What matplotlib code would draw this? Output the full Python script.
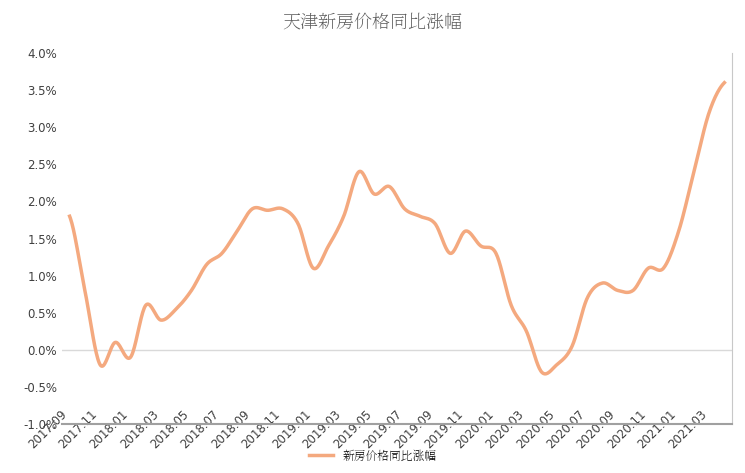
import numpy as np
import matplotlib
matplotlib.use("Agg")
import matplotlib.pyplot as plt
from matplotlib import font_manager as fm

cjk = None
for f in fm.findSystemFonts():
    if "CJK" in f or "NotoSansSC" in f:
        cjk = f
        if "SC" in f or "ttc" in f:
            break
if cjk:
    fm.fontManager.addfont(cjk)
    fp = fm.FontProperties(fname=cjk)
else:
    fp = fm.FontProperties(family="Noto Sans CJK SC")

months = ["2017.09","2017.10","2017.11","2017.12","2018.01","2018.02","2018.03","2018.04","2018.05","2018.06",
          "2018.07","2018.08","2018.09","2018.10","2018.11","2018.12","2019.01","2019.02","2019.03","2019.04",
          "2019.05","2019.06","2019.07","2019.08","2019.09","2019.10","2019.11","2019.12","2020.01","2020.02",
          "2020.03","2020.04","2020.05","2020.06","2020.07","2020.08","2020.09","2020.10","2020.11","2020.12",
          "2021.01","2021.02","2021.03","2021.04"]
values = [1.8,0.8,-0.2,0.1,-0.1,0.6,0.4,0.55,0.8,1.15,
          1.3,1.6,1.9,1.88,1.9,1.7,1.1,1.4,1.8,2.4,
          2.1,2.2,1.9,1.8,1.7,1.3,1.6,1.4,1.3,0.6,
          0.25,-0.3,-0.2,0.05,0.7,0.9,0.8,0.8,1.1,1.1,
          1.6,2.4,3.2,3.6]

def smooth(y, n=20):
    y = np.asarray(y, float)
    p = np.concatenate([[y[0]], y, [y[-1]]])
    xs, ys = [], []
    for i in range(len(y) - 1):
        p0, p1, p2, p3 = p[i], p[i+1], p[i+2], p[i+3]
        t = np.linspace(0, 1, n, endpoint=False)
        c = 0.5*((2*p1) + (-p0+p2)*t + (2*p0-5*p1+4*p2-p3)*t**2 + (-p0+3*p1-3*p2+p3)*t**3)
        xs.append(i + t); ys.append(c)
    xs.append([len(y)-1]); ys.append([y[-1]])
    return np.concatenate(xs), np.concatenate(ys)

fig = plt.figure(figsize=(7.45, 4.73), dpi=100)
fig.patch.set_facecolor("white")
ax = fig.add_axes([62/745, 1-424/473, (732-62)/745, (424-53)/473])
sx, sy = smooth(values)
ax.plot(sx, sy, color="#F4A97F", lw=2.5, label="新房价格同比涨幅")
ax.set_ylim(-1.0, 4.0)
ax.set_xlim(-0.5, len(values)-0.5)
ax.set_yticks(np.arange(-1.0, 4.01, 0.5))
ax.set_yticklabels([f"{v:.1f}%" for v in np.arange(-1.0, 4.01, 0.5)], fontsize=8.5, color="#404040")
ticks = list(range(0, len(months), 2))
ax.set_xticks(ticks)
ax.set_xticklabels([months[i] for i in ticks], rotation=45, ha="right", fontsize=8.5, color="#404040")
ax.tick_params(length=0)
for s in ["top", "left"]:
    ax.spines[s].set_visible(False)
ax.spines["right"].set_color("#C8C8C8")
ax.spines["bottom"].set_color("#A0A0A0")
ax.spines["bottom"].set_linewidth(1.5)
ax.axhline(0, color="#D9D9D9", lw=1, zorder=0)
ax.xaxis.set_tick_params(pad=-12)
fig.suptitle("天津新房价格同比涨幅", y=0.975, fontproperties=fp, fontsize=13, color="#595959")
fig.legend(loc="lower center", bbox_to_anchor=(0.5, 0.0), frameon=False, prop=fm.FontProperties(fname=cjk, size=8.5) if cjk else None)
fig.savefig("out.png", dpi=100)
